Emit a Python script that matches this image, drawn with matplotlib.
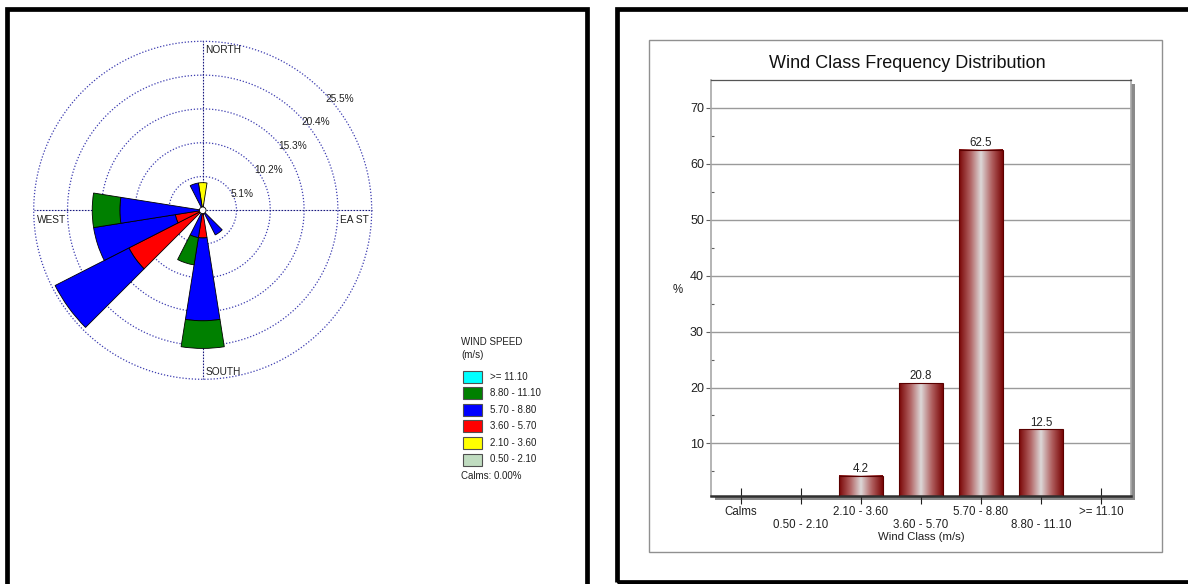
import numpy as np
import matplotlib
matplotlib.use("Agg")
import matplotlib.pyplot as plt
from matplotlib.patches import Rectangle
from matplotlib.colors import LinearSegmentedColormap

plt.rcParams['font.family'] = ['Liberation Sans', 'DejaVu Sans']

# ---------------- data ----------------
# wind rose: 20 direction sectors (degrees, clockwise from north)
directions = np.arange(0, 360, 18)
speed_classes = ['0.50 - 2.10', '2.10 - 3.60', '3.60 - 5.70', '5.70 - 8.80', '8.80 - 11.10', '>= 11.10']
class_colors = ['#c0dcc0', '#ffff00', '#ff0000', '#0000ff', '#008000', '#00ffff']
#                 0     18    36    54    72    90   108   126   144   162   180   198   216   234   252   270   288   306   324   342
freq_050_210 = [0.00, 0.00, 0.00, 0.00, 0.00, 0.00, 0.00, 0.00, 0.00, 0.00, 0.00, 0.00, 0.00, 0.00, 0.00, 0.00, 0.00, 0.00, 0.00, 0.00]
freq_210_360 = [4.17, 0.00, 0.00, 0.00, 0.00, 0.00, 0.00, 0.00, 0.00, 0.00, 0.00, 0.00, 0.00, 0.00, 0.00, 0.00, 0.00, 0.00, 0.00, 0.00]
freq_360_570 = [0.00, 0.00, 0.00, 0.00, 0.00, 0.00, 0.00, 0.00, 0.00, 0.00, 4.17, 0.00, 0.00, 12.50, 4.17, 0.00, 0.00, 0.00, 0.00, 0.00]
freq_570_880 = [0.00, 0.00, 0.00, 0.00, 0.00, 0.00, 0.00, 0.00, 4.17, 0.00, 12.50, 4.17, 0.00, 12.50, 12.50, 12.50, 0.00, 0.00, 0.00, 4.17]
freq_880_1110 = [0.00, 0.00, 0.00, 0.00, 0.00, 0.00, 0.00, 0.00, 0.00, 0.00, 4.17, 4.17, 0.00, 0.00, 0.00, 4.17, 0.00, 0.00, 0.00, 0.00]
freq_ge_1110 = [0.00] * 20
ring_values = [5.1, 10.2, 15.3, 20.4, 25.5]
calms_text = 'Calms: 0.00%'

# frequency distribution bar chart
bar_categories = ['Calms', '0.50 - 2.10', '2.10 - 3.60', '3.60 - 5.70', '5.70 - 8.80', '8.80 - 11.10', '>= 11.10']
bar_values = [0.0, 0.0, 4.2, 20.8, 62.5, 12.5, 0.0]
y_ticks = [10, 20, 30, 40, 50, 60, 70]

W, H = 1188, 584
fig = plt.figure(figsize=(W / 100, H / 100), dpi=100)
fig.patch.set_facecolor('white')

def fx(px):
    return px / W

def fy(py):
    return 1 - py / H

# ---------------- panel frames ----------------
lw_frame = 3.4
fig.add_artist(Rectangle((fx(7), fy(640)), fx(586.5 - 7), (640 - 9) / H, transform=fig.transFigure,
                         fill=False, edgecolor='black', lw=lw_frame, zorder=5))
fig.add_artist(Rectangle((fx(616.5), fy(582)), fx(1250 - 616.5), (582 - 9) / H, transform=fig.transFigure,
                         fill=False, edgecolor='black', lw=lw_frame, zorder=5))
# inner gray box of right chart
fig.add_artist(Rectangle((fx(649), fy(552)), fx(1162 - 649), (552 - 40) / H, transform=fig.transFigure,
                         fill=False, edgecolor='#909090', lw=1.0, zorder=1))

# ---------------- wind rose ----------------
cx, cy, R = 202.7, 210.3, 169.0
rmax = ring_values[-1]
axr = fig.add_axes([fx(cx - R), fy(cy + R), 2 * R / W, 2 * R / H], projection='polar')
axr.set_theta_zero_location('N')
axr.set_theta_direction(-1)
axr.set_ylim(0, rmax)
axr.set_axis_off()

tt = np.linspace(0, 2 * np.pi, 400)
for rv in ring_values:
    axr.plot(tt, np.full_like(tt, rv), linestyle=(0, (1, 1.5)), color='#3c3cb0', lw=0.9, zorder=1,
             clip_on=False)
for ang in [0, 90, 180, 270]:
    axr.plot([np.radians(ang)] * 2, [0, rmax], linestyle=(0, (1.5, 1.2)), color='#1a1a80', lw=0.8, zorder=1,
             clip_on=False)

theta = np.radians(directions)
width = np.radians(18)
series = [freq_050_210, freq_210_360, freq_360_570, freq_570_880, freq_880_1110, freq_ge_1110]
bottom = np.zeros(len(directions))
for vals, col in zip(series, class_colors):
    vals = np.asarray(vals)
    mask = vals > 0
    if mask.any():
        axr.bar(theta[mask], vals[mask], width=width, bottom=bottom[mask], color=col,
                edgecolor='black', lw=0.6, zorder=3)
    bottom = bottom + vals

# calm circle
axr.fill(tt, np.full_like(tt, 0.5), facecolor='white', edgecolor='black', lw=0.6, zorder=4)

rose_fs = 7.3
for rv in ring_values:
    axr.annotate(f'{rv}%', xy=(np.radians(45), rv), xytext=(2.5, -2.0), textcoords='offset points',
                 ha='left', va='top', fontsize=rose_fs, color='#202020', zorder=5)
axr.annotate('NORTH', xy=(0, rmax), xytext=(2, -2.5), textcoords='offset points',
             ha='left', va='top', fontsize=rose_fs, color='#202020')
axr.annotate('SOUTH', xy=(np.pi, rmax), xytext=(2, 1.5), textcoords='offset points',
             ha='left', va='bottom', fontsize=rose_fs, color='#202020')
axr.annotate('WEST', xy=(np.radians(270), rmax), xytext=(2.5, -3.5), textcoords='offset points',
             ha='left', va='top', fontsize=rose_fs, color='#202020')
axr.annotate('EA ST', xy=(np.radians(90), rmax), xytext=(-2, -3.5), textcoords='offset points',
             ha='right', va='top', fontsize=rose_fs, color='#202020')

# legend
leg_fs = 7.0
fig.text(fx(461), fy(342), 'WIND SPEED', fontsize=leg_fs, ha='left', va='center', color='#202020')
fig.text(fx(461), fy(355.5), '(m/s)', fontsize=leg_fs, ha='left', va='center', color='#202020')
leg_y0, leg_dy = 376.5, 16.6
for i, (lab, col) in enumerate(zip(speed_classes[::-1], class_colors[::-1])):
    yc = leg_y0 + i * leg_dy
    fig.add_artist(Rectangle((fx(462.5), fy(yc + 6)), fx(19), 12 / H, transform=fig.transFigure,
                             facecolor=col, edgecolor='#505050', lw=0.8))
    fig.text(fx(490.5), fy(yc), lab, fontsize=leg_fs, ha='left', va='center', color='#202020')
fig.text(fx(461), fy(476), calms_text, fontsize=leg_fs, ha='left', va='center', color='#202020')

# ---------------- bar chart ----------------
pl, pr, pt, pb = 711, 1131, 80, 496
# shadow
fig.add_artist(Rectangle((fx(pl + 4), fy(pb + 3.5)), fx(pr - pl), (pb - pt) / H, transform=fig.transFigure,
                         facecolor='#8a8a8a', edgecolor='none', zorder=-1))
axb = fig.add_axes([fx(pl), fy(pb), fx(pr - pl), (pb - pt) / H])
axb.set_facecolor('white')
x = np.arange(len(bar_categories))
ymin = 0.6

for yv in y_ticks:
    axb.axhline(yv, color='#9a9a9a', lw=1.0, zorder=0)

cmap = LinearSegmentedColormap.from_list('barshade', ['#7a0606', '#b06060', '#ddd8d8', '#b06060', '#7a0606'])
grad = np.linspace(0, 1, 256).reshape(1, -1)
bw = 0.72
for xi, v in zip(x, bar_values):
    if v > 0:
        axb.imshow(grad, cmap=cmap, aspect='auto', extent=[xi - bw / 2, xi + bw / 2, ymin, v],
                   interpolation='bilinear', zorder=2)
        axb.bar(xi, v - ymin, bottom=ymin, width=bw, facecolor='none', edgecolor='#5a0000', lw=0.8, zorder=3)
        axb.annotate(f'{v:.1f}', xy=(xi, v), xytext=(0, 0.5), textcoords='offset points',
                     ha='center', va='bottom', fontsize=8.3, color='#202020')
axb.set_xlim(-0.5, len(bar_categories) - 0.5)
axb.set_ylim(ymin, 75)

axb.set_xticks(x)
axb.set_xticklabels([c if i % 2 == 0 else '\n' + c for i, c in enumerate(bar_categories)],
                    fontsize=8.3, color='#202020', linespacing=1.15)
axb.tick_params(axis='x', direction='inout', length=11, width=0.8, color='#202020', pad=1.5)
axb.set_yticks(y_ticks)
axb.set_yticklabels([str(v) for v in y_ticks], fontsize=9, color='#202020')
axb.set_yticks([5, 15, 25, 35, 45, 55, 65], minor=True)
axb.tick_params(axis='y', which='major', direction='out', length=3.6, width=0.8, color='#606060', pad=1.5)
axb.tick_params(axis='y', which='minor', direction='in', length=2.5, width=0.8, color='#606060')
axb.tick_params(axis='x', which='minor', bottom=False)

for s in ['left', 'right']:
    axb.spines[s].set_color('#a8a8a8')
    axb.spines[s].set_linewidth(1.2)
axb.spines['top'].set_color('#555555')
axb.spines['top'].set_linewidth(0.9)
axb.spines['bottom'].set_color('#303030')
axb.spines['bottom'].set_linewidth(1.8)

axb.set_xlabel('Wind Class (m/s)', fontsize=8.2, color='#202020', labelpad=1)
axb.set_ylabel('%', rotation=0, fontsize=8.3, color='#202020', va='center', ha='center')
axb.yaxis.set_label_coords(-0.08, 0.495)

fig.text(fx(907), fy(64), 'Wind Class Frequency Distribution', fontsize=13, ha='center', va='center',
         color='#111111')

fig.savefig('out.png', dpi=100)
